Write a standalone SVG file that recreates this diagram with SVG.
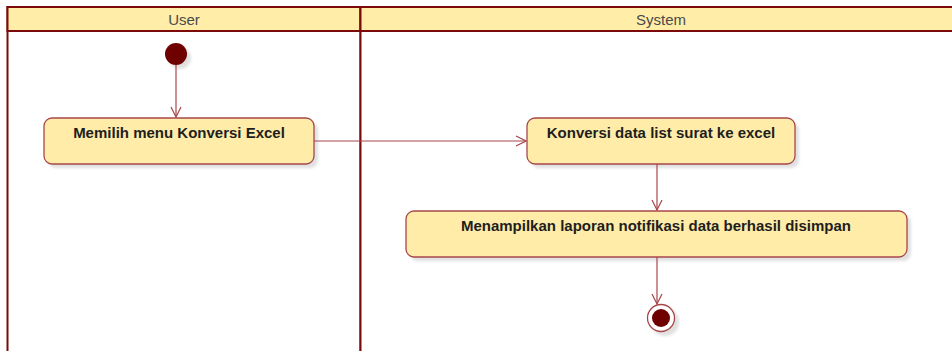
<svg xmlns="http://www.w3.org/2000/svg" width="952" height="351" viewBox="0 0 952 351">
  <defs>
    <style>
      .lane { fill: #ffffff; stroke: #7d0a0a; stroke-width: 2; }
      .lane-head { fill: #ffeda8; stroke: #7d0a0a; stroke-width: 2; }
      .lane-title { font-family: "Liberation Sans", Arial, sans-serif; font-size: 15px; fill: #4a4a4a; text-anchor: middle; }
      .action { fill: #feeca8; stroke: #a8474b; stroke-width: 1.3; }
      .shadow { fill: #000000; opacity: 0.12; filter: url(#soft); }
      .label { font-family: "Liberation Sans", Arial, sans-serif; font-size: 15px; font-weight: bold; fill: #1e1e1e; text-anchor: middle; }
      .flow { fill: none; stroke: #a8474b; stroke-width: 1.2; }
    </style>
    <filter id="soft" x="-20%" y="-20%" width="140%" height="140%">
      <feGaussianBlur stdDeviation="1.5"/>
    </filter>
    <marker id="open-arrow" viewBox="0 0 12 12" refX="11" refY="6" markerWidth="12" markerHeight="12" markerUnits="userSpaceOnUse" orient="auto">
      <path d="M1,1 L11,6 L1,11" fill="none" stroke="#a8474b" stroke-width="1.2"/>
    </marker>
  </defs>

  <!-- swimlanes -->
  <g id="lane-user">
    <rect class="lane" x="7.5" y="7" width="353" height="360"/>
    <rect class="lane-head" x="7.5" y="7" width="353" height="24"/>
    <text class="lane-title" x="184" y="25">User</text>
  </g>
  <g id="lane-system">
    <rect class="lane" x="360.5" y="7" width="610" height="360"/>
    <rect class="lane-head" x="360.5" y="7" width="610" height="24"/>
    <text class="lane-title" x="661" y="25">System</text>
  </g>

  <!-- start -->
  <g id="start">
    <circle class="shadow" cx="180" cy="58" r="11"/>
    <circle cx="176" cy="54" r="11" fill="#6e0000"/>
  </g>

  <!-- actions -->
  <g id="memilih-menu">
    <rect class="shadow" x="48" y="122" width="270" height="46" rx="8"/>
    <rect class="action" x="44" y="118" width="270" height="46" rx="8"/>
    <text class="label" x="179" y="138">Memilih menu Konversi Excel</text>
  </g>

  <g id="konversi-data">
    <rect class="shadow" x="531" y="122" width="268" height="46" rx="8"/>
    <rect class="action" x="527" y="118" width="268" height="46" rx="8"/>
    <text class="label" x="661" y="138">Konversi data list surat ke excel</text>
  </g>

  <g id="menampilkan-laporan">
    <rect class="shadow" x="410" y="215" width="501" height="46" rx="8"/>
    <rect class="action" x="406" y="211" width="501" height="46" rx="8"/>
    <text class="label" x="656" y="231">Menampilkan laporan notifikasi data berhasil disimpan</text>
  </g>

  <!-- end -->
  <g id="end">
    <circle class="shadow" cx="665" cy="322" r="14"/>
    <circle cx="661" cy="318" r="13.5" fill="#ffffff" stroke="#a8474b" stroke-width="1.3"/>
    <circle cx="661" cy="318" r="9" fill="#6e0000"/>
  </g>

  <!-- control flows -->
  <g id="connectors">
    <path class="flow" d="M176,65 L176,117" marker-end="url(#open-arrow)"/>
    <path class="flow" d="M314,141 L526,141" marker-end="url(#open-arrow)"/>
    <path class="flow" d="M657,164 L657,210" marker-end="url(#open-arrow)"/>
    <path class="flow" d="M657,257 L657,304" marker-end="url(#open-arrow)"/>
  </g>
</svg>
